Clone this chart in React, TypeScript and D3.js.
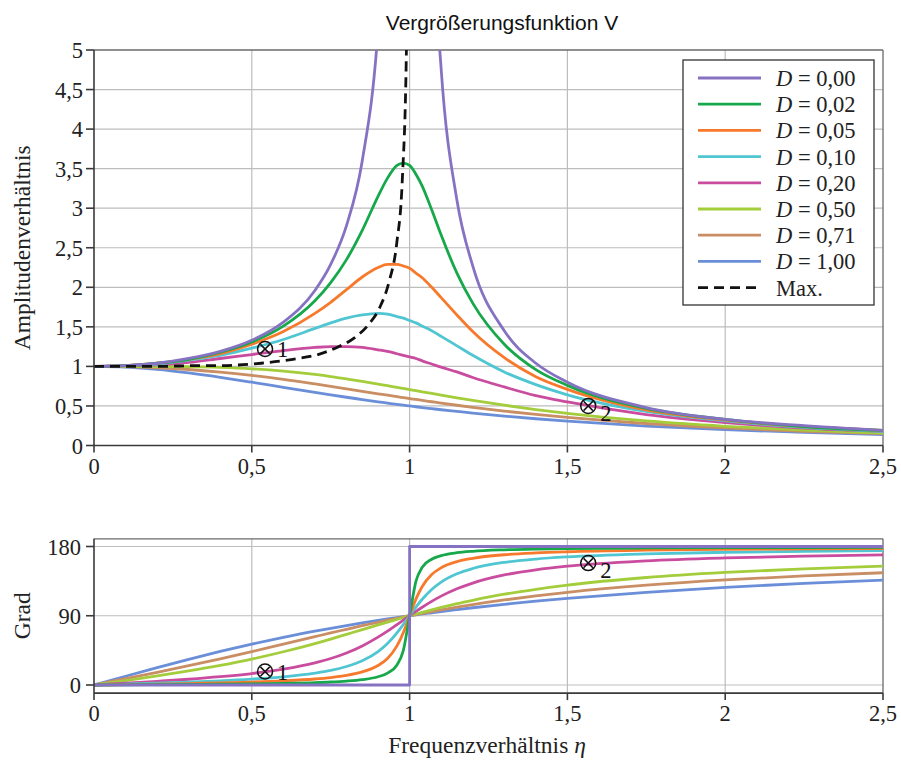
import React from 'react';
import * as d3 from 'd3';

// frequency ratio grid shared by all series
const eta = [0, 0.1, 0.2, 0.3, 0.4, 0.5, 0.6, 0.7, 0.75, 0.8, 0.85, 0.9, 0.93, 0.96, 0.98, 1.0,
  1.02, 1.04, 1.07, 1.1, 1.15, 1.2, 1.3, 1.4, 1.5, 1.75, 2.0, 2.25, 2.5];

// amplitude ratio
const ampD000 = [1, 1.01, 1.04, 1.10, 1.19, 1.33, 1.56, 1.96, 2.29, 2.78, 3.60, 5.26, 7.40, 12.8, 25.3, null,
  24.8, 12.3, 6.90, 4.76, 3.10, 2.27, 1.45, 1.04, 0.80, 0.48, 0.33, 0.25, 0.19];
const ampD002 = [1, 1.01, 1.04, 1.09, 1.18, 1.31, 1.51, 1.83, 2.06, 2.35, 2.72, 3.15, 3.38, 3.54, 3.57, 3.54,
  3.43, 3.28, 2.98, 2.66, 2.18, 1.80, 1.28, 0.96, 0.76, 0.47, 0.33, 0.24, 0.19];
const ampD005 = [1, 1.01, 1.04, 1.09, 1.16, 1.28, 1.44, 1.67, 1.81, 1.97, 2.13, 2.25, 2.29, 2.29, 2.27, 2.24,
  2.18, 2.12, 2.00, 1.87, 1.65, 1.44, 1.11, 0.87, 0.71, 0.45, 0.32, 0.24, 0.19];
const ampD010 = [1, 1.01, 1.03, 1.08, 1.14, 1.23, 1.34, 1.48, 1.55, 1.61, 1.65, 1.67, 1.66, 1.63, 1.61, 1.58,
  1.55, 1.51, 1.45, 1.38, 1.26, 1.14, 0.93, 0.77, 0.64, 0.43, 0.31, 0.23, 0.18];
const ampD020 = [1, 1.01, 1.02, 1.05, 1.10, 1.15, 1.20, 1.24, 1.25, 1.25, 1.24, 1.21, 1.19, 1.16, 1.14, 1.12,
  1.10, 1.07, 1.03, 0.99, 0.93, 0.86, 0.74, 0.63, 0.55, 0.39, 0.29, 0.22, 0.18];
const ampD050 = [1, 1.00, 0.999, 0.996, 0.987, 0.970, 0.941, 0.898, 0.872, 0.842, 0.811, 0.777, 0.756, 0.735, 0.721, 0.707,
  0.693, 0.679, 0.658, 0.637, 0.603, 0.570, 0.509, 0.454, 0.406, 0.310, 0.243, 0.194, 0.158];
const ampD071 = [1, 0.996, 0.983, 0.961, 0.928, 0.886, 0.836, 0.778, 0.748, 0.717, 0.685, 0.654, 0.636, 0.617, 0.605, 0.593,
  0.582, 0.570, 0.553, 0.536, 0.509, 0.483, 0.435, 0.393, 0.355, 0.278, 0.222, 0.180, 0.149];
const ampD100 = [1, 0.990, 0.962, 0.917, 0.862, 0.800, 0.735, 0.671, 0.640, 0.610, 0.581, 0.552, 0.536, 0.520, 0.510, 0.500,
  0.490, 0.480, 0.466, 0.452, 0.431, 0.410, 0.372, 0.338, 0.308, 0.246, 0.200, 0.165, 0.138];

// locus of the maxima (dashed)
const maxEta = [0, 0.14, 0.22, 0.32, 0.39, 0.53, 0.63, 0.71, 0.77, 0.825, 0.87, 0.906, 0.935, 0.959, 0.977, 0.990, 0.995];
const maxAmp = [1, 1.00, 1.00, 1.01, 1.01, 1.04, 1.09, 1.15, 1.24, 1.36, 1.53, 1.75, 2.07, 2.55, 3.37, 5.03, 7.16];

// phase angle in degrees, lower panel
const phEtaD000 = [0, 1, 1, 2.5];
const phD000 = [0, 0, 180, 180];
const phD002 = [0, 0.2, 0.5, 0.8, 1.1, 1.5, 2.2, 3.1, 3.9, 5.1, 7.0, 10.7, 15.4, 26.1, 44.7, 90,
  134.7, 153.0, 163.5, 168.2, 171.9, 173.8, 175.7, 176.7, 177.3, 178.1, 178.5, 178.7, 178.9];
const phD005 = [0, 0.6, 1.2, 1.9, 2.7, 3.8, 5.4, 7.8, 9.7, 12.5, 17.0, 25.4, 34.5, 50.8, 68.0, 90,
  111.6, 128.1, 143.6, 152.4, 160.4, 164.7, 169.3, 171.7, 173.2, 175.2, 176.2, 176.8, 177.3];
const phD010 = [0, 1.2, 2.4, 3.8, 5.4, 7.6, 10.6, 15.4, 18.9, 24.0, 31.5, 43.5, 54.0, 67.8, 78.6, 90,
  101.2, 111.4, 124.1, 133.7, 144.5, 151.4, 159.4, 163.7, 166.5, 170.4, 172.4, 173.7, 174.6];
const phD020 = [0, 2.3, 4.8, 7.5, 10.8, 14.9, 20.6, 28.8, 34.4, 41.6, 50.8, 62.2, 70.0, 78.5, 84.2, 90,
  95.7, 101.1, 108.7, 115.5, 125.0, 132.5, 143.0, 149.7, 154.4, 161.3, 165.1, 167.5, 169.2];
const phD050 = [0, 5.8, 11.8, 18.3, 25.5, 33.7, 43.2, 53.9, 59.7, 65.8, 71.9, 78.1, 81.7, 85.3, 87.7, 90,
  92.3, 94.5, 97.7, 100.8, 105.7, 110.1, 118.0, 124.4, 129.8, 139.7, 146.3, 151.0, 154.5];
const phD071 = [0, 8.2, 16.5, 25.1, 34.1, 43.4, 53.1, 62.8, 67.7, 72.4, 77.1, 81.5, 84.2, 86.7, 88.4, 90,
  91.6, 93.2, 95.5, 97.7, 101.2, 104.5, 110.5, 115.8, 120.4, 129.7, 136.6, 141.8, 145.9];
const phD100 = [0, 11.4, 22.6, 33.4, 43.6, 53.1, 61.9, 70.0, 73.7, 77.3, 80.7, 84.0, 85.9, 87.7, 88.8, 90,
  91.1, 92.3, 93.9, 95.5, 98.0, 100.4, 104.9, 108.9, 112.6, 120.5, 126.9, 132.1, 136.4];

const dampingLabels = ['0,00', '0,02', '0,05', '0,10', '0,20', '0,50', '0,71', '1,00'];
const seriesColors = ['#8672c2', '#17a84b', '#f77a2c', '#4fc6d1', '#c94c9f', '#a4cd3c', '#c98e63', '#6b8ed8'];
const ampSeries = [ampD000, ampD002, ampD005, ampD010, ampD020, ampD050, ampD071, ampD100];
const phaseSeries = [phD000, phD002, phD005, phD010, phD020, phD050, phD071, phD100];

const xTicks = [0, 0.5, 1, 1.5, 2, 2.5];
const ampTicks = [0, 0.5, 1, 1.5, 2, 2.5, 3, 3.5, 4, 4.5, 5];
const phaseTicks = [0, 90, 180];

// marked points ⊗1 and ⊗2
const markerEta = [0.542, 1.566];
const markerAmp = [1.22, 0.50];
const markerPhase = [17.5, 158.5];
const markerLabels = ['1', '2'];

const SERIF = '"Liberation Serif", "Times New Roman", serif';
const SANS = '"Liberation Sans", Arial, sans-serif';
const GRID = '#bdbdbd';
const AXIS = '#3a3a3a';
const FS = 22.5;

const fmt = (v: number) => String(v).replace('.', ',');

function Marker({cx, cy, label, low}: {cx: number, cy: number, label: string, low: boolean})
{
    const r = 7.5;
    const d = r * 0.62;
    return (
        <g stroke="#111" strokeWidth={1.5} fill="none">
            <circle cx={cx} cy={cy} r={r}/>
            <line x1={cx - d} y1={cy - d} x2={cx + d} y2={cy + d}/>
            <line x1={cx - d} y1={cy + d} x2={cx + d} y2={cy - d}/>
            <text x={cx + 12} y={cy + (low ? 15 : 8)} stroke="none" fill="#111"
                  fontFamily={SERIF} fontSize={FS}>{label}</text>
        </g>
    );
}

export default function App()
{
    const x = d3.scaleLinear().domain([0, 2.5]).range([94, 883]);
    const yA = d3.scaleLinear().domain([0, 5]).range([445.5, 50]);
    const yP = d3.scaleLinear().domain([0, 180]).range([685, 546.5]);

    const pTop = yP(190);
    const pBottom = yP(-10.5);

    const ampLine = d3.line<number | null>()
        .defined(v => v != null)
        .x((_, i) => x(eta[i]))
        .y(v => yA(v as number))
        .curve(d3.curveMonotoneX);

    const phaseLine = d3.line<number>()
        .x((_, i) => x(eta[i]))
        .y(v => yP(v))
        .curve(d3.curveMonotoneX);

    const stepLine = d3.line<number>()
        .x((_, i) => x(phEtaD000[i]))
        .y(v => yP(v));

    const maxLine = d3.line<number>()
        .x((_, i) => x(maxEta[i]))
        .y(v => yA(v))
        .curve(d3.curveMonotoneX);

    const order = [7, 6, 5, 4, 3, 2, 1, 0];

    return (
        <svg width={901} height={761} style={{position: 'absolute', left: 0, top: 0, display: 'block'}}>
            <rect width={901} height={761} fill="#fff"/>
            <defs>
                <clipPath id="clipTop"><rect x={x(0)} y={yA(5)} width={x(2.5) - x(0)} height={yA(0) - yA(5)}/></clipPath>
                <clipPath id="clipBot"><rect x={x(0)} y={pTop} width={x(2.5) - x(0)} height={pBottom - pTop}/></clipPath>
            </defs>

            <text x={502} y={30} textAnchor="middle" fontFamily={SANS} fontSize={21} fill="#111">
                Vergrößerungsfunktion V
            </text>

            {/* upper panel grid */}
            <g stroke={GRID} strokeWidth={1.2}>
                {ampTicks.filter(t => t > 0 && t < 5).map(t =>
                    <line key={'ha' + t} x1={x(0)} x2={x(2.5)} y1={yA(t)} y2={yA(t)}/>)}
                {xTicks.filter(t => t > 0 && t < 2.5).map(t =>
                    <line key={'va' + t} x1={x(t)} x2={x(t)} y1={yA(5)} y2={yA(0)}/>)}
            </g>
            <g stroke="#6a6a6a" strokeWidth={1.3} fill="none">
                <line x1={x(0)} x2={x(2.5)} y1={yA(5)} y2={yA(5)}/>
                <line x1={x(2.5)} x2={x(2.5)} y1={yA(5)} y2={yA(0)}/>
            </g>

            <g clipPath="url(#clipTop)" fill="none" strokeWidth={2.8} strokeLinejoin="round">
                {order.map(i =>
                    <path key={'a' + i} d={ampLine(ampSeries[i]) || ''} stroke={seriesColors[i]}/>)}
                <path d={maxLine(maxAmp) || ''} stroke="#111" strokeWidth={2.8} strokeDasharray="10,6"/>
            </g>

            {/* upper axes */}
            <g stroke={AXIS} strokeWidth={1.6}>
                <line x1={x(0)} x2={x(0)} y1={yA(5)} y2={yA(0)}/>
                <line x1={x(0)} x2={x(2.5)} y1={yA(0)} y2={yA(0)}/>
                {ampTicks.map(t => <line key={'ta' + t} x1={x(0) - 8} x2={x(0)} y1={yA(t)} y2={yA(t)}/>)}
                {xTicks.map(t => <line key={'tx' + t} x1={x(t)} x2={x(t)} y1={yA(0)} y2={yA(0) + 7}/>)}
            </g>
            <g fontFamily={SERIF} fontSize={FS} fill="#222">
                {ampTicks.map(t =>
                    <text key={'la' + t} x={83} y={yA(t) + 8} textAnchor="end">{fmt(t)}</text>)}
                {xTicks.map(t =>
                    <text key={'lx' + t} x={x(t)} y={yA(0) + 28} textAnchor="middle">{fmt(t)}</text>)}
                <text transform={`translate(30,${(yA(0) + yA(5)) / 2}) rotate(-90)`} textAnchor="middle" fontSize={23.5}>
                    Amplitudenverhältnis
                </text>
            </g>

            {markerEta.map((e, i) =>
                <Marker key={'ma' + i} cx={x(e)} cy={yA(markerAmp[i])} label={markerLabels[i]} low={i === 1}/>)}

            {/* legend */}
            <g>
                <rect x={683} y={60} width={191} height={245} fill="#fff" stroke="#333" strokeWidth={1.3}/>
                {dampingLabels.map((lab, i) =>
                    <g key={'lg' + i} transform={`translate(0,${78 + i * 26.2})`}>
                        <line x1={698} x2={761} y1={0} y2={0} stroke={seriesColors[i]} strokeWidth={2.8}/>
                        <text x={776} y={8} fontFamily={SERIF} fontSize={FS} fill="#222">
                            <tspan fontStyle="italic">D</tspan>{' = ' + lab}
                        </text>
                    </g>)}
                <g transform={`translate(0,${78 + 8 * 26.2})`}>
                    <line x1={698} x2={761} y1={0} y2={0} stroke="#111" strokeWidth={2.8} strokeDasharray="10,6"/>
                    <text x={776} y={8} fontFamily={SERIF} fontSize={FS} fill="#222">Max.</text>
                </g>
            </g>

            {/* lower panel grid */}
            <g stroke={GRID} strokeWidth={1.2}>
                {phaseTicks.map(t =>
                    <line key={'hp' + t} x1={x(0)} x2={x(2.5)} y1={yP(t)} y2={yP(t)}/>)}
                {xTicks.filter(t => t > 0 && t < 2.5).map(t =>
                    <line key={'vp' + t} x1={x(t)} x2={x(t)} y1={pTop} y2={pBottom}/>)}
            </g>
            <g stroke="#6a6a6a" strokeWidth={1.3}>
                <line x1={x(0)} x2={x(2.5)} y1={pTop} y2={pTop}/>
                <line x1={x(2.5)} x2={x(2.5)} y1={pTop} y2={pBottom}/>
            </g>

            <g clipPath="url(#clipBot)" fill="none" strokeWidth={2.8} strokeLinejoin="round">
                {order.filter(i => i > 0).map(i =>
                    <path key={'p' + i} d={phaseLine(phaseSeries[i]) || ''} stroke={seriesColors[i]}/>)}
                <path d={stepLine(phD000) || ''} stroke={seriesColors[0]}/>
            </g>

            <g stroke={AXIS} strokeWidth={1.6}>
                <line x1={x(0)} x2={x(0)} y1={pTop} y2={pBottom}/>
                <line x1={x(0)} x2={x(2.5)} y1={pBottom} y2={pBottom}/>
                {phaseTicks.map(t => <line key={'tp' + t} x1={x(0) - 8} x2={x(0)} y1={yP(t)} y2={yP(t)}/>)}
                {xTicks.map(t => <line key={'tq' + t} x1={x(t)} x2={x(t)} y1={pBottom} y2={pBottom + 7}/>)}
            </g>
            <g fontFamily={SERIF} fontSize={FS} fill="#222">
                {phaseTicks.map(t =>
                    <text key={'lp' + t} x={81} y={yP(t) + 8} textAnchor="end">{t}</text>)}
                {xTicks.map(t =>
                    <text key={'lq' + t} x={x(t)} y={pBottom + 28} textAnchor="middle">{fmt(t)}</text>)}
                <text transform={`translate(30,${yP(90)}) rotate(-90)`} textAnchor="middle" fontSize={23.5}>Grad</text>
                <text x={487} y={753} textAnchor="middle" fontSize={23.5}>
                    Frequenzverhältnis <tspan fontStyle="italic">η</tspan>
                </text>
            </g>

            {markerEta.map((e, i) =>
                <Marker key={'mp' + i} cx={x(e)} cy={yP(markerPhase[i])} label={markerLabels[i]} low={i === 1}/>)}
        </svg>
    );
}
